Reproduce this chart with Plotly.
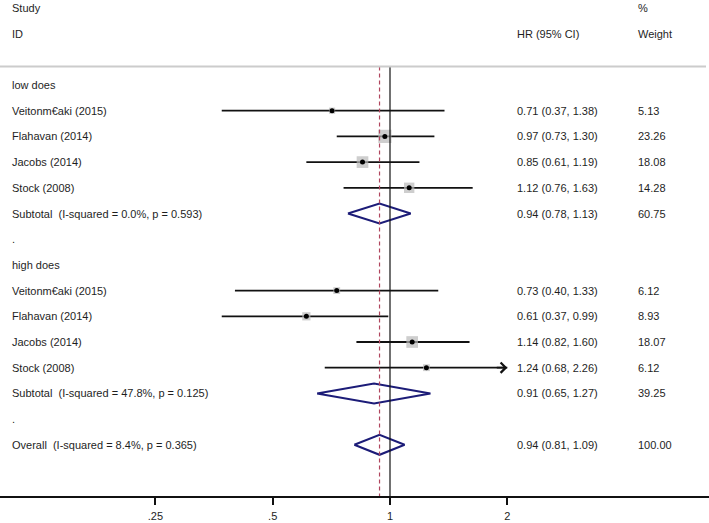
import numpy as np
import plotly.graph_objects as go

# ---------------- data ----------------
studies = ["Veitonm€aki (2015)", "Flahavan (2014)", "Jacobs (2014)", "Stock (2008)"]

low_hr = [0.71, 0.97, 0.85, 1.12]
low_lo = [0.37, 0.73, 0.61, 0.76]
low_hi = [1.38, 1.30, 1.19, 1.63]
low_w = [5.13, 23.26, 18.08, 14.28]

high_hr = [0.73, 0.61, 1.14, 1.24]
high_lo = [0.40, 0.37, 0.82, 0.68]
high_hi = [1.33, 0.99, 1.60, 2.26]
high_w = [6.12, 8.93, 18.07, 6.12]

pooled_names = ["Subtotal", "Subtotal", "Overall"]
pooled_het = ["I-squared = 0.0%, p = 0.593", "I-squared = 47.8%, p = 0.125", "I-squared = 8.4%, p = 0.365"]
pooled_hr = [0.94, 0.91, 0.94]
pooled_lo = [0.78, 0.65, 0.81]
pooled_hi = [1.13, 1.27, 1.09]
pooled_w = [60.75, 39.25, 100.00]

group_names = ["low does", "high does"]

tick_vals = [0.25, 0.5, 1, 2]
tick_text = [".25", ".5", "1", "2"]

# ---------------- layout of rows ----------------
rows_low = [1, 2, 3, 4]
rows_high = [8, 9, 10, 11]
rows_pooled = [5, 12, 14]
rows_group = [0, 7]
rows_spacer = [6, 13]

W, H = 709, 523
ROW_PX = 25.7
ROW0_PX = 85
AXIS_PX = 496
y_top = -ROW0_PX / ROW_PX
y_bot = (AXIS_PX - ROW0_PX) / ROW_PX

X1_PX = 390.0
DOUBLE_PX = 117.3
x_left = (0 - X1_PX) / DOUBLE_PX * np.log10(2)
x_right = (W - X1_PX) / DOUBLE_PX * np.log10(2)
x_max = max(tick_vals)

FONT = "Liberation Sans, Arial, sans-serif"
TXT = "#1e1e1e"
NAVY = "#1c1c78"

fig = go.Figure()

all_hr = low_hr + high_hr
all_lo = low_lo + high_lo
all_hi = low_hi + high_hi
all_w = low_w + high_w
all_rows = rows_low + rows_high

# CI lines
cx, cy = [], []
for lo, hi, r in zip(all_lo, all_hi, all_rows):
    cx += [lo, min(hi, x_max), None]
    cy += [r, r, None]
fig.add_trace(go.Scatter(x=cx, y=cy, mode="lines", line=dict(color="#111111", width=1.8),
                         hoverinfo="skip", showlegend=False))

# weight squares
fig.add_trace(go.Scatter(x=all_hr, y=all_rows, mode="markers",
                         marker=dict(symbol="square", color="#b9b9b9",
                                     size=[2.75 * np.sqrt(w) for w in all_w], line=dict(width=0)),
                         hoverinfo="skip", showlegend=False))
# point estimates
fig.add_trace(go.Scatter(x=all_hr, y=all_rows, mode="markers",
                         marker=dict(symbol="circle", color="#000000", size=5),
                         hoverinfo="skip", showlegend=False))

# diamonds
DH = 10 / ROW_PX
for hr, lo, hi, r in zip(pooled_hr, pooled_lo, pooled_hi, rows_pooled):
    fig.add_trace(go.Scatter(x=[lo, hr, hi, hr, lo], y=[r, r - DH, r, r + DH, r], mode="lines",
                             line=dict(color=NAVY, width=2), hoverinfo="skip", showlegend=False))

# reference lines
line_top = -0.72
fig.add_trace(go.Scatter(x=[1, 1], y=[line_top, y_bot], mode="lines",
                         line=dict(color="#111111", width=1.2), hoverinfo="skip", showlegend=False))
fig.add_trace(go.Scatter(x=[pooled_hr[2], pooled_hr[2]], y=[line_top, y_bot], mode="lines",
                         line=dict(color="#b0455e", width=1.2, dash="4px,3px"), hoverinfo="skip", showlegend=False))

# arrow for clipped CI
annotations = []
for lo, hi, r in zip(all_lo, all_hi, all_rows):
    if hi > x_max:
        annotations.append(dict(x=np.log10(x_max), y=r, xref="x", yref="y", ax=-12, ay=0,
                                showarrow=True, arrowhead=4, arrowsize=1.1, arrowwidth=1.8,
                                arrowcolor="#111111", text=""))

def txt(x_px, r, s):
    annotations.append(dict(x=x_px / W, y=r, xref="paper", yref="y", text=s, showarrow=False,
                            xanchor="left", yanchor="middle",
                            font=dict(family=FONT, size=11, color=TXT)))

LX, HX, WX = 9.5, 514.5, 635.5
txt(LX, -3, "Study")
txt(LX, -2, "ID")
txt(HX, -2, "HR (95% CI)")
txt(WX, -3, "%")
txt(WX, -2, "Weight")

for g, r in zip(group_names, rows_group):
    txt(LX, r, g)
for r in rows_spacer:
    txt(LX, r, ".")

for name, hr, lo, hi, w, r in zip(studies * 2, all_hr, all_lo, all_hi, all_w, all_rows):
    txt(LX, r, name)
    txt(HX, r, f"{hr:.2f} ({lo:.2f}, {hi:.2f})")
    txt(WX, r, f"{w:.2f}")

for name, het, hr, lo, hi, w, r in zip(pooled_names, pooled_het, pooled_hr, pooled_lo, pooled_hi, pooled_w, rows_pooled):
    txt(LX, r, f"{name}\u00a0 ({het})")
    txt(HX, r, f"{hr:.2f} ({lo:.2f}, {hi:.2f})")
    txt(WX, r, f"{w:.2f}")

shapes = [dict(type="line", xref="paper", yref="y", x0=0, x1=706 / W, y0=line_top, y1=line_top,
               line=dict(color="#cccccc", width=2))]

fig.update_layout(
    width=W, height=H,
    margin=dict(l=0, r=0, t=0, b=H - AXIS_PX),
    paper_bgcolor="white", plot_bgcolor="white",
    annotations=annotations, shapes=shapes,
    xaxis=dict(type="log", range=[x_left, x_right], tickvals=tick_vals, ticktext=tick_text,
               showgrid=False, zeroline=False, showline=True, linecolor="#111111", linewidth=1.5,
               ticks="outside", ticklen=7, tickwidth=1.5, tickcolor="#111111",
               ticklabelstandoff=2,
               tickfont=dict(family=FONT, size=11, color=TXT)),
    yaxis=dict(range=[y_bot, y_top], showgrid=False, zeroline=False, showline=False,
               showticklabels=False, ticks=""),
)

fig.write_html("out.html", config={"displayModeBar": False},
               post_script="document.body.style.margin='0';document.body.style.padding='0';")
